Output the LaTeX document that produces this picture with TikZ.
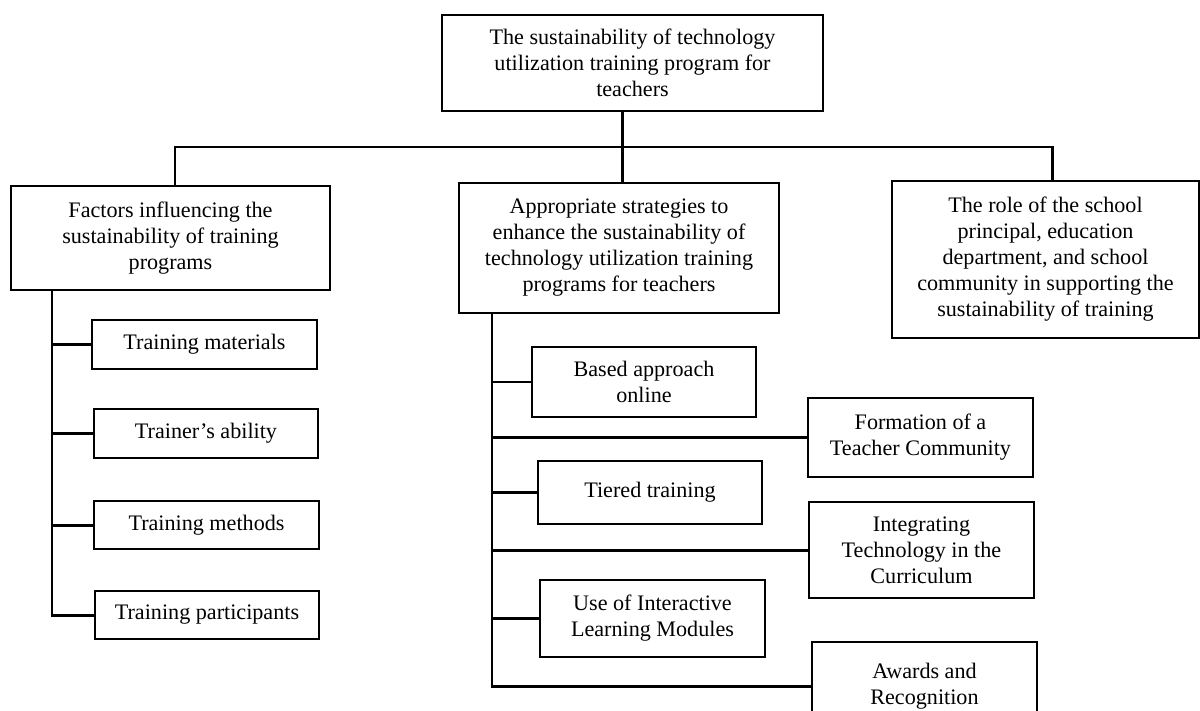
\documentclass[tikz,border=0pt]{standalone}
\usepackage{fontspec}
\setmainfont{Liberation Serif}
\begin{document}
\begin{tikzpicture}[x=0.02cm,y=-0.02cm,
		box/.style 2 args={draw,line width=0.8pt,align=center,inner sep=0pt,
			minimum width=#1*0.02cm,minimum height=#2*0.02cm,
			font=\fontsize{12.6}{14.8}\selectfont},
		link/.style={line width=1.7pt}]
		\clip (0,0) rectangle (1200,710);
		\node[box={381}{96}] (top) at (632.5,63) {The sustainability of technology\\utilization training program for\\teachers};
		\node[box={319}{104}] (fac) at (170.5,238) {Factors influencing the\\sustainability of training\\programs};
		\node[box={320}{130}] (strat) at (619,248) {Appropriate strategies to\\enhance the sustainability of\\technology utilization training\\programs for teachers};
		\node[box={307}{157}] (role) at (1045.5,259.5) {The role of the school\\principal, education\\department, and school\\community in supporting the\\sustainability of training};
		\node[box={225}{49}] (mat) at (204.5,344.5) {Training materials};
		\node[box={224}{49}] (abil) at (206,433.5) {Trainer's ability};
		\node[box={225}{48}] (meth) at (206.5,525) {Training methods};
		\node[box={224}{48}] (part) at (207,615) {Training participants};
		\node[box={224}{70}] (online) at (644,382) {Based approach\\online};
		\node[box={225}{79}] (comm) at (920.5,437.5) {Formation of a\\Teacher Community};
		\node[box={224}{63}] (tier) at (650,492.5) {Tiered training};
		\node[box={225}{96}] (curr) at (921.5,550) {Integrating\\Technology in the\\Curriculum};
		\node[box={225}{77}] (modul) at (652.5,618.5) {Use of Interactive\\Learning Modules};
		\node[box={225}{88}] (award) at (924.5,686) {Awards and\\Recognition};
		\coordinate (barL) at (175,147);
		\coordinate (barM) at (622,147);
		\coordinate (barR) at (1052,147);
		\coordinate (lspine) at (52,615);
		\coordinate (mspine) at (492,686);
		\draw[link] (barL |- fac.north) -- (barL) -- (barR) -- (barR |- role.north);
		\draw[link] (top.south -| barM) -- (barM |- strat.north);
		\draw[link] (lspine |- fac.south) -- (lspine) -- (part.west);
		\foreach \n in {mat,abil,meth}
			\draw[link] (lspine |- \n.west) -- (\n.west);
		\draw[link] (mspine |- strat.south) -- (mspine) -- (award.west);
		\foreach \n in {online,comm,tier,curr,modul}
			\draw[link] (mspine |- \n.west) -- (\n.west);
\end{tikzpicture}
\end{document}
